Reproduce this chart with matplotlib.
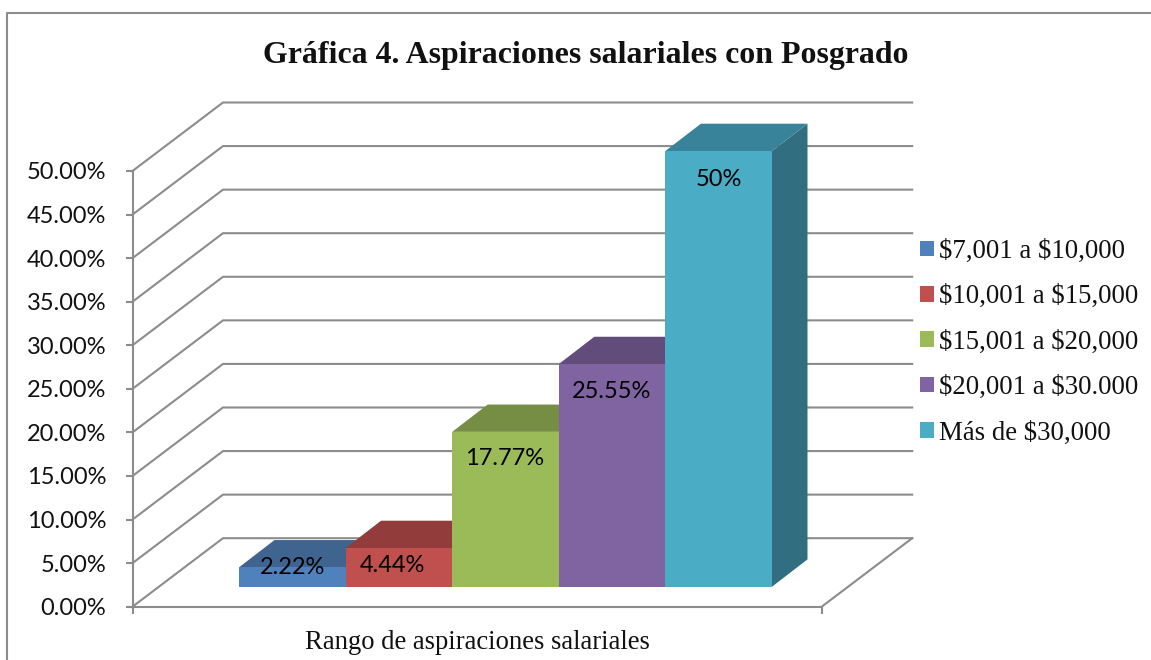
import matplotlib
matplotlib.use("Agg")
import matplotlib.pyplot as plt
from matplotlib.lines import Line2D
from matplotlib.patches import Patch

categories = [r"\$7,001 a \$10,000", r"\$10,001 a \$15,000", r"\$15,001 a \$20,000",
              r"\$20,001 a \$30.000", r"Más de \$30,000"]
values = [2.22, 4.44, 17.77, 25.55, 50.0]
value_labels = ["2.22%", "4.44%", "17.77%", "25.55%", "50%"]
front_colors = ["#4F81BD", "#C0504D", "#9BBB59", "#8064A2", "#4BACC6"]
top_colors = ["#3E648F", "#923D3B", "#768E44", "#614C7B", "#39839A"]
side_colors = ["#335474", "#7C3331", "#637839", "#523F68", "#316F80"]
yticks = [0, 5, 10, 15, 20, 25, 30, 35, 40, 45, 50]

W, H = 1151, 660
DPI = 100
L, R, Y0, Y50 = 132.5, 821.7, 606.7, 171.0
BAR_W = 106.6
PX_X = 1 / BAR_W
PX_Y = 50 / (Y0 - Y50)
GRID = "#8C8C8C"
LW = 1.5
SERIF = "Liberation Serif"

fig = plt.figure(figsize=(W / DPI, H / DPI), dpi=DPI, facecolor="white")
ax = fig.add_axes([L / W, 1 - Y0 / H, (R - L) / W, (Y0 - Y50) / H])
ax.set_xlim(0, (R - L) * PX_X)
ax.set_ylim(0, 50)
ax.patch.set_alpha(0)

# walls
wall_dx, wall_dy = 90.5 * PX_X, 68.5 * PX_Y
xmax = (R - L) * PX_X
for v in yticks:
    ax.plot([0, wall_dx, xmax + wall_dx], [v, v + wall_dy, v + wall_dy],
            color=GRID, lw=LW, clip_on=False, zorder=1, solid_joinstyle="miter")
ax.plot([xmax, xmax + wall_dx], [0, wall_dy], color=GRID, lw=LW, clip_on=False, zorder=1)

# bars
x0 = (239 - L) * PX_X
base = (Y0 - 586.7) * PX_Y
dx, dy = 35.5 * PX_X, 27.3 * PX_Y
label_offset_px = [0.5, 17, 27, 27, 29]
label_shift_px = [0, -6, -1, -1, 0]
for i, v in enumerate(values):
    left, right = x0 + i, x0 + i + 1
    top = base + v
    z = 3 + i
    ax.fill([right, right + dx, right + dx, right],
            [base, base + dy, top + dy, top], color=side_colors[i], lw=0, clip_on=False, zorder=z)
    ax.fill([left, left + dx, right + dx, right],
            [top, top + dy, top + dy, top], color=top_colors[i], lw=0, clip_on=False, zorder=z)
    ax.bar(left, v, width=1, bottom=base, align="edge", color=front_colors[i], lw=0,
           clip_on=False, zorder=z + 0.5)
for i, v in enumerate(values):
    ax.annotate(value_labels[i], (x0 + i + 0.5, base + v),
                xytext=(label_shift_px[i] * 0.72, -label_offset_px[i] * 0.72),
                textcoords="offset points", ha="center", va="center", annotation_clip=False,
                family="Lato", fontsize=17, color="black", zorder=20)

# axes
ax.set_yticks(yticks, [f"{v:.2f}%" for v in yticks], family="Lato", fontsize=17, color="#111111")
ax.set_xticks([0, xmax], ["", ""])
ax.tick_params(axis="both", length=5, width=LW, color=GRID)
ax.tick_params(axis="y", pad=14)
for s in ("top", "right"):
    ax.spines[s].set_visible(False)
for s in ("left", "bottom"):
    ax.spines[s].set_color(GRID)
    ax.spines[s].set_linewidth(LW)
ax.set_xlabel("Rango de aspiraciones salariales", family=SERIF, fontsize=19.2, labelpad=8, color="#111111")

# title
fig.text(585.5 / W, 1 - 56 / H, "Gráfica 4. Aspiraciones salariales con Posgrado",
         family=SERIF, fontsize=22.95, fontweight="bold", ha="center", va="center", color="#111111")

# legend
handles = [Patch(facecolor=c, edgecolor="none") for c in front_colors]
fs = 19.3
leg = fig.legend(handles, categories, loc="upper left", bbox_to_anchor=(920 / W, 1 - 239 / H),
                 frameon=False, prop={"family": SERIF, "size": fs}, borderpad=0, borderaxespad=0,
                 handlelength=14 / (fs * DPI / 72), handleheight=14 / (fs * DPI / 72),
                 handletextpad=0.2, labelspacing=0.76, labelcolor="#111111")

# chart frame
fig.add_artist(Line2D([7 / W, 7 / W, 1], [0, 1 - 12.5 / H, 1 - 12.5 / H], color=GRID, lw=LW))

fig.savefig("out.png", dpi=DPI)
